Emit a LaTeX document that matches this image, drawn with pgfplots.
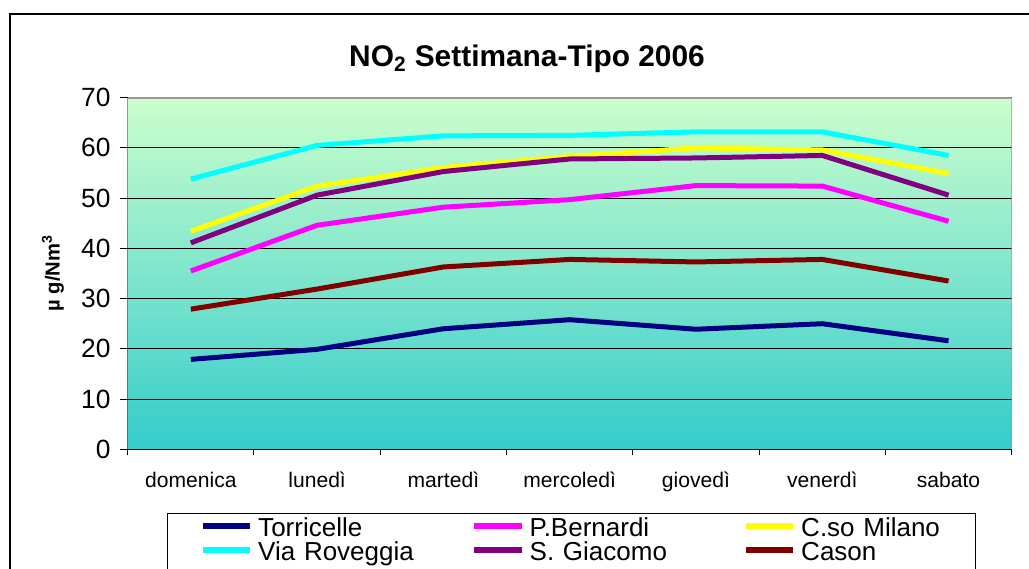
\documentclass[border=0pt]{standalone}
\usepackage{fontspec}
\setmainfont{Liberation Sans}
\usepackage{pgfplots}
\pgfplotsset{compat=1.18}
\definecolor{bgtop}{HTML}{CCFFCC}
\definecolor{bgbot}{HTML}{33CCCC}
\definecolor{frame}{HTML}{999999}
\definecolor{ctorr}{HTML}{000080}
\definecolor{cbern}{HTML}{FF00FF}
\definecolor{cmil}{HTML}{FFFF00}
\definecolor{crov}{HTML}{00FFFF}
\definecolor{cgiac}{HTML}{800080}
\definecolor{ccas}{HTML}{800000}

\begin{document}
\begin{tikzpicture}
% page = 1029 x 569 px at 0.02cm per px
\useasboundingbox (0,0) rectangle (20.58cm,11.38cm);
\draw[black,line width=0.03cm] (0.2cm,-1cm) -- (0.2cm,11.1cm) -- (22cm,11.1cm);
\begin{axis}[
  at={(2.554cm,2.394cm)}, anchor=south west,
  scale only axis, width=17.68cm, height=7.032cm,
  xmin=0.5, xmax=7.5, ymin=0, ymax=70,
  xtick={1,...,7},
  xticklabels={domenica, lunedì, martedì, mercoledì, giovedì, venerdì, sabato},
  minor xtick={0.5,1.5,...,7.5},
  ytick={0,10,...,70},
  tick pos=left,
  tick align=outside,
  major tick length=0.16cm, minor tick length=0.12cm,
  tick style={black,line width=0.02cm},
  major x tick style={draw=none},
  axis line style={draw=none},
  ymajorgrids, grid style={black,line width=0.02cm},
  axis background/.style={top color=bgtop, bottom color=bgbot},
  /pgf/number format/assume math mode=true,
  yticklabel style={font=\fontsize{15}{18}\selectfont, anchor=east, xshift=-0.06cm},
  xticklabel style={font=\fontsize{12}{14}\selectfont, anchor=base, yshift=-0.6cm},
  legend columns=3,
  legend style={at={(0.0445,-0.181)}, anchor=north west,
    draw=black, line width=0.02cm, fill=white,
    font=\fontsize{14.8}{17}\selectfont,
    inner xsep=0.64cm, inner ysep=0.1cm,
    nodes={text width=2.75cm, inner xsep=0.09cm, inner ysep=0pt,
           text height=0.36cm, text depth=0.12cm, align=left},
    /tikz/every even column/.append style={column sep=1.416cm}},
  legend image code/.code={\draw[#1,line width=0.13cm] (0cm,0.09cm) -- (0.954cm,0.09cm);},
  every axis plot/.append style={line width=0.1cm, line join=round},
]
\addplot[ctorr] coordinates {(1,17.9) (2,19.9) (3,24.0) (4,25.8) (5,23.9) (6,25.0) (7,21.6)};
\addplot[cbern] coordinates {(1,35.5) (2,44.6) (3,48.2) (4,49.7) (5,52.5) (6,52.4) (7,45.4)};
\addplot[cmil]  coordinates {(1,43.4) (2,52.4) (3,56.1) (4,58.3) (5,60.0) (6,59.6) (7,54.9)};
\addplot[crov]  coordinates {(1,53.8) (2,60.5) (3,62.4) (4,62.5) (5,63.2) (6,63.2) (7,58.5)};
\addplot[cgiac] coordinates {(1,41.1) (2,50.6) (3,55.3) (4,57.8) (5,58.0) (6,58.5) (7,50.6)};
\addplot[ccas]  coordinates {(1,27.9) (2,31.9) (3,36.3) (4,37.8) (5,37.3) (6,37.8) (7,33.5)};
\legend{\mbox{Torricelle}, \mbox{P.Bernardi}, \mbox{C.so Milano},
        \mbox{Via Roveggia}, \mbox{S. Giacomo}, \mbox{Cason}}
% Excel plot-area frame: black axes left and bottom, grey edge top and right
\draw[frame,line width=0.04cm] (rel axis cs:0,1) -- (rel axis cs:1,1) -- (rel axis cs:1,0);
\draw[black,line width=0.02cm] (rel axis cs:0,1) -- (rel axis cs:0,0) -- (rel axis cs:1,0);
\end{axis}
\node[font=\fontsize{17}{20}\selectfont\bfseries, anchor=base] at (10.54cm,10.046cm)
  {NO\textsubscript{2} Settimana-Tipo 2006};
\node[font=\fontsize{11.5}{14}\selectfont\bfseries, rotate=90, anchor=center] at (1.06cm,5.92cm)
  {µ g/Nm\textsuperscript{3}};
\end{tikzpicture}
\end{document}
